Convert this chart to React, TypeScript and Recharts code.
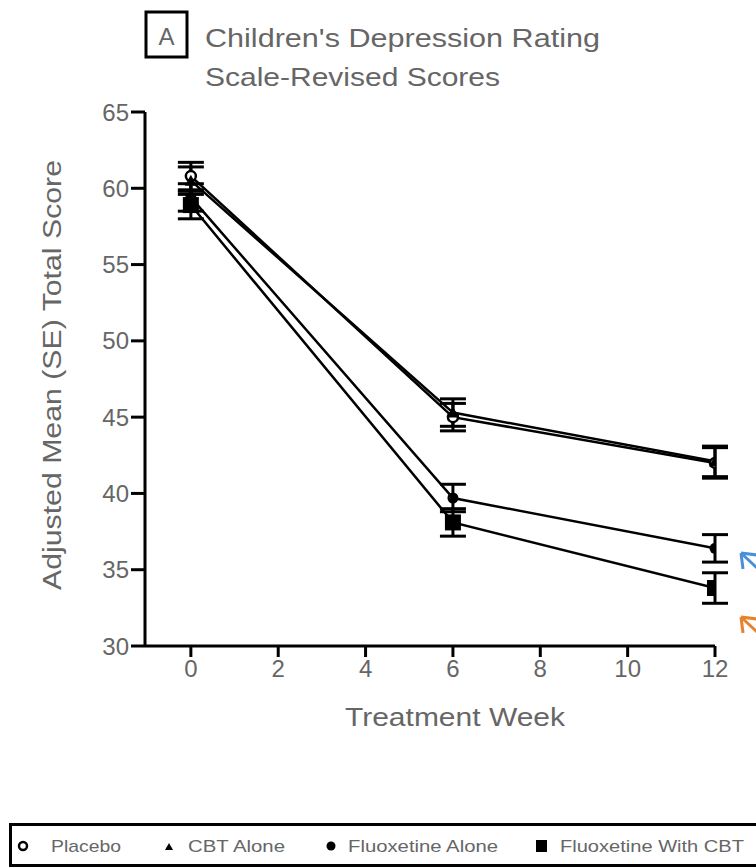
import React from 'react';
import { LineChart, Line, XAxis, YAxis, ErrorBar } from 'recharts';

const weeks = [0, 6, 12];
const placebo = [60.8, 45.0, 42.0];
const cbt = [60.5, 45.3, 42.1];
const fluoxetine = [59.4, 39.7, 36.4];
const combo = [58.9, 38.1, 33.8];
const placeboSE = [0.9, 0.9, 1.0];
const cbtSE = [0.9, 0.9, 1.0];
const fluoxetineSE = [0.9, 0.9, 0.9];
const comboSE = [0.9, 0.9, 1.0];
const xTicks = [0, 2, 4, 6, 8, 10, 12];
const yTicks = [30, 35, 40, 45, 50, 55, 60, 65];
const legendLabels = ['Placebo', 'CBT Alone', 'Fluoxetine Alone', 'Fluoxetine With CBT'];

const data = weeks.map((w, i) => ({
  week: w,
  placebo: placebo[i],
  cbt: cbt[i],
  fluoxetine: fluoxetine[i],
  combo: combo[i],
  placeboSE: placeboSE[i],
  cbtSE: cbtSE[i],
  fluoxetineSE: fluoxetineSE[i],
  comboSE: comboSE[i],
}));

const FONT = '"Liberation Sans", Arial, Helvetica, sans-serif';
const TXT = '#666666';

const OpenCircle = (p: any) => (
  <circle key={`oc${p.index}`} cx={p.cx} cy={p.cy} r={5} fill="#fff" stroke="#000" strokeWidth={2.5} />
);
const Tri = (p: any) => (
  <path key={`tr${p.index}`} d={`M${p.cx},${p.cy - 6} L${p.cx + 6},${p.cy + 5} L${p.cx - 6},${p.cy + 5} Z`} fill="#000" />
);
const Dot = (p: any) => <circle key={`fd${p.index}`} cx={p.cx} cy={p.cy} r={5.5} fill="#000" />;
const Sq = (p: any) => <rect key={`sq${p.index}`} x={p.cx - 8} y={p.cy - 8} width={16} height={16} fill="#000" />;

export default function App() {
  return (
    <div style={{ position: 'absolute', left: 0, top: 0, width: 756, height: 868, background: '#fff', fontFamily: FONT }}>
      <LineChart
        width={756}
        height={868}
        data={data}
        margin={{ top: 112, right: 41, bottom: 192, left: 85 }}
        style={{ position: 'absolute', left: 0, top: 0 }}
      >
        <XAxis
          dataKey="week"
          type="number"
          domain={[-1.05, 12]}
          ticks={xTicks}
          allowDataOverflow
          height={30}
          stroke="#000"
          strokeWidth={3}
          tickSize={11}
          tickMargin={3}
          tick={{ fill: TXT, fontSize: 24, fontFamily: FONT }}
        />
        <YAxis
          type="number"
          domain={[30, 65]}
          ticks={yTicks}
          width={60}
          stroke="#000"
          strokeWidth={3}
          tickSize={14}
          tickMargin={2}
          tick={{ fill: TXT, fontSize: 24, fontFamily: FONT }}
        />
        <Line dataKey="placebo" stroke="#000" strokeWidth={2.5} dot={OpenCircle} isAnimationActive={false}>
          <ErrorBar dataKey="placeboSE" width={13} stroke="#000" strokeWidth={3} direction="y" />
        </Line>
        <Line dataKey="cbt" stroke="#000" strokeWidth={2.5} dot={Tri} isAnimationActive={false}>
          <ErrorBar dataKey="cbtSE" width={13} stroke="#000" strokeWidth={3} direction="y" />
        </Line>
        <Line dataKey="fluoxetine" stroke="#000" strokeWidth={2.5} dot={Dot} isAnimationActive={false}>
          <ErrorBar dataKey="fluoxetineSE" width={13} stroke="#000" strokeWidth={3} direction="y" />
        </Line>
        <Line dataKey="combo" stroke="#000" strokeWidth={2.5} dot={Sq} isAnimationActive={false}>
          <ErrorBar dataKey="comboSE" width={13} stroke="#000" strokeWidth={3} direction="y" />
        </Line>
      </LineChart>

      <svg width={756} height={868} style={{ position: 'absolute', left: 0, top: 0, pointerEvents: 'none' }}>
        <rect x={146} y={12} width={41} height={45} fill="none" stroke="#000" strokeWidth={3} />
        <text x={166.5} y={45} textAnchor="middle" fontSize={24} fill={TXT} fontFamily={FONT}>A</text>
        <text x={205} y={47} fontSize={25} fill={TXT} fontFamily={FONT} textLength={395} lengthAdjust="spacingAndGlyphs">
          Children's Depression Rating
        </text>
        <text x={205} y={86} fontSize={25} fill={TXT} fontFamily={FONT} textLength={295} lengthAdjust="spacingAndGlyphs">
          Scale-Revised Scores
        </text>
        <text
          x={54}
          y={375}
          transform="rotate(-90 54 375)"
          textAnchor="middle"
          dominantBaseline="middle"
          fontSize={25}
          fill={TXT}
          fontFamily={FONT}
          textLength={430}
          lengthAdjust="spacingAndGlyphs"
        >
          Adjusted Mean (SE) Total Score
        </text>
        <text
          x={345}
          y={726}
          fontSize={25}
          fill={TXT}
          fontFamily={FONT}
          textLength={220}
          lengthAdjust="spacingAndGlyphs"
        >
          Treatment Week
        </text>
        <g stroke="#4a8fd8" strokeWidth={3} fill="none">
          <path d="M741,553 L770,580" />
          <path d="M741,553 L757,555 M741,553 L743,569" />
        </g>
        <g stroke="#e8832c" strokeWidth={3} fill="none">
          <path d="M741,617 L770,644" />
          <path d="M741,617 L757,619 M741,617 L743,633" />
        </g>
      </svg>

      <div
        style={{
          position: 'absolute',
          left: 9,
          top: 823,
          width: 760,
          height: 38,
          border: '3px solid #000',
          boxSizing: 'content-box',
          color: TXT,
          fontFamily: FONT,
        }}
      >
        <svg width={760} height={38} style={{ position: 'absolute', left: 0, top: 0 }}>
          <circle cx={11} cy={20} r={4} fill="#fff" stroke="#000" strokeWidth={2.5} />
          <path d="M157,17 L161,24 L153,24 Z" fill="#000" />
          <circle cx={319} cy={20} r={4.5} fill="#000" />
          <rect x={524} y={14} width={11} height={12} fill="#000" />
          <text x={39} y={26} fontSize={17} fill={TXT} fontFamily={FONT} textLength={70} lengthAdjust="spacingAndGlyphs">{legendLabels[0]}</text>
          <text x={176} y={26} fontSize={17} fill={TXT} fontFamily={FONT} textLength={97} lengthAdjust="spacingAndGlyphs">{legendLabels[1]}</text>
          <text x={336} y={26} fontSize={17} fill={TXT} fontFamily={FONT} textLength={150} lengthAdjust="spacingAndGlyphs">{legendLabels[2]}</text>
          <text x={548} y={26} fontSize={17} fill={TXT} fontFamily={FONT} textLength={184} lengthAdjust="spacingAndGlyphs">{legendLabels[3]}</text>
        </svg>
      </div>
    </div>
  );
}
